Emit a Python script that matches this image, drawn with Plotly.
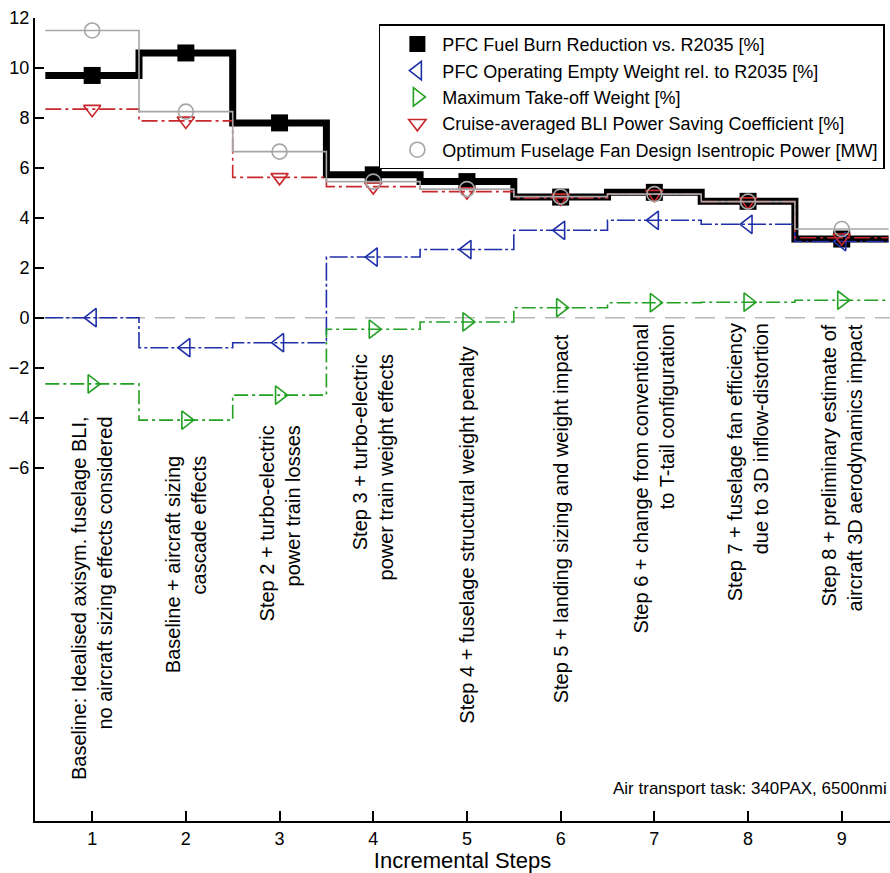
import plotly.graph_objects as go

# ---------------- data ----------------
steps = [1, 2, 3, 4, 5, 6, 7, 8, 9]
fuel_burn = [9.7, 10.6, 7.8, 5.72, 5.45, 4.83, 5.02, 4.66, 3.15]
oew = [0.0, -1.2, -1.0, 2.43, 2.73, 3.5, 3.9, 3.74, 3.05]
mtow = [-2.65, -4.1, -3.1, -0.46, -0.17, 0.4, 0.6, 0.62, 0.7]
bli = [8.35, 7.88, 5.62, 5.25, 5.05, 4.8, 4.95, 4.65, 3.2]
fan_power = [11.5, 8.25, 6.65, 5.45, 5.15, 4.85, 4.95, 4.65, 3.55]

yticks = [-6, -4, -2, 0, 2, 4, 6, 8, 10, 12]

series_names = [
    "PFC Fuel Burn Reduction vs. R2035 [%]",
    "PFC Operating Empty Weight rel. to R2035 [%]",
    "Maximum Take-off Weight [%]",
    "Cruise-averaged BLI Power Saving Coefficient [%]",
    "Optimum Fuselage Fan Design Isentropic Power [MW]",
]

step_labels = [
    "Baseline: Idealised axisym. fuselage BLI,<br>no aircraft sizing effects considered",
    "Baseline + aircraft sizing<br>cascade effects",
    "Step 2 + turbo-electric<br>power train losses",
    "Step 3 + turbo-electric<br>power train weight effects",
    "Step 4 + fuselage structural weight penalty",
    "Step 5 + landing sizing and weight impact",
    "Step 6 + change from conventional<br>to T-tail configuration",
    "Step 7 + fuselage fan efficiency<br>due to 3D inflow-distortion",
    "Step 8 + preliminary estimate of<br>aircraft 3D aerodynamics impact",
]
note_text = "Air transport task: 340PAX, 6500nmi"

# ---------------- styles ----------------
label_tops = [-3.85, -5.45, -4.25, -1.38, -1.06, -0.58, -0.14, -0.14, -0.18]

styles = [
    dict(color="black", width=7, dash="solid", symbol="square", size=17, lw=0),
    dict(color="#1f2fa8", width=1.6, dash="18px,3px,3px,3px", symbol="triangle-left-open", size=16, lw=1.6),
    dict(color="#22a022", width=1.6, dash="14px,4px,3px,4px", symbol="triangle-right-open", size=16, lw=1.6),
    dict(color="#c8282d", width=1.6, dash="16px,4px,3px,4px", symbol="triangle-down-open", size=15, lw=1.6),
    dict(color="#a6a6a6", width=1.6, dash="solid", symbol="circle-open", size=15, lw=1.6),
]

all_series = [fuel_burn, oew, mtow, bli, fan_power]

fig = go.Figure()

x_step = [steps[0] - 0.5] + steps + [steps[-1] + 0.5]
for name, vals, st in zip(series_names, all_series, styles):
    y_step = [vals[0]] + vals + [vals[-1]]
    fig.add_trace(go.Scatter(
        x=x_step, y=y_step, mode="lines", line_shape="hvh",
        line=dict(color=st["color"], width=st["width"], dash=st["dash"]),
        showlegend=False, hoverinfo="skip",
    ))
    fig.add_trace(go.Scatter(
        x=steps, y=vals, mode="markers", name=name,
        marker=dict(symbol=st["symbol"], size=st["size"], color=st["color"],
                    line=dict(width=st["lw"], color=st["color"])),
    ))

fig.add_shape(type="line", xref="paper", x0=0, x1=1, yref="y", y0=0, y1=0,
              line=dict(color="#b8b8b8", width=1.5, dash="20px,10px"), layer="below")

for s, lab, top in zip(steps, step_labels, label_tops):
    fig.add_annotation(x=s, y=top, xref="x", yref="y", text=lab, textangle=-90,
                       showarrow=False, xanchor="center", yanchor="top", align="right",
                       font=dict(size=20, color="black"))

fig.add_annotation(x=0.999, y=0.041, xref="paper", yref="paper", text=note_text,
                   showarrow=False, xanchor="right", yanchor="middle",
                   font=dict(size=17, color="black"))

fig.update_layout(
    width=890, height=873,
    margin=dict(l=35, r=0, t=18, b=52),
    plot_bgcolor="white", paper_bgcolor="white",
    font=dict(family="Liberation Sans, Arial, sans-serif", color="black"),
    legend=dict(x=0.994, xanchor="right", y=0.992, yanchor="top",
                bordercolor="black", borderwidth=1.5, bgcolor="white",
                font=dict(size=18), tracegroupgap=0, indentation=12, itemwidth=40),
    xaxis=dict(range=[0.39, 9.515], tickvals=steps, ticks="inside", ticklen=10,
               tickwidth=1.5, tickcolor="black", showline=True, linecolor="black",
               linewidth=2, showgrid=False, zeroline=False,
               tickfont=dict(size=18),
               title=dict(text="Incremental Steps", font=dict(size=22), standoff=4)),
    yaxis=dict(range=[-20.15, 12], tickvals=yticks, ticks="inside", ticklen=9,
               tickwidth=1.5, tickcolor="black", showline=True, linecolor="black",
               linewidth=2, showgrid=False, zeroline=False,
               tickfont=dict(size=18)),
)

fig.write_html("out.html", config={"displayModeBar": False},
               post_script="document.body.style.margin='0';document.body.style.overflow='hidden';")
